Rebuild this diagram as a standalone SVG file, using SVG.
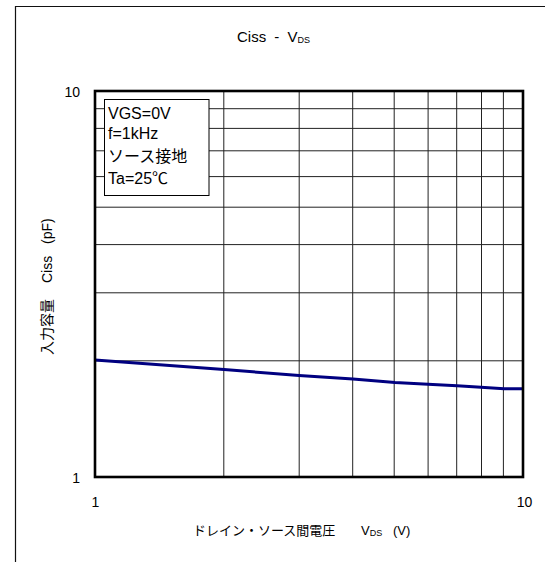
<svg xmlns="http://www.w3.org/2000/svg" width="545" height="562" viewBox="0 0 545 562">
<style>
text{font-family:"Liberation Sans","Noto Sans CJK JP",sans-serif;fill:#000}
.t14{font-size:14px}
.leg{font-size:16px}
.sub{font-size:9px}
.grid line{stroke:#222;stroke-width:1}
</style>
<rect width="545" height="562" fill="#fff"/>
<g id="frame"><path d="M15.5,562 V6.5 H545" fill="none" stroke="#111" stroke-width="1.2"/></g>
<g id="title"><text class="t14" x="237" y="42" style="font-size:15px" word-spacing="4">Ciss - V<tspan class="sub" dy="1">DS</tspan></text></g>
<g id="grid" class="grid">
<line x1="223.8" y1="91" x2="223.8" y2="477"/>
<line x1="299.2" y1="91" x2="299.2" y2="477"/>
<line x1="352.7" y1="91" x2="352.7" y2="477"/>
<line x1="394.2" y1="91" x2="394.2" y2="477"/>
<line x1="428.1" y1="91" x2="428.1" y2="477"/>
<line x1="456.7" y1="91" x2="456.7" y2="477"/>
<line x1="481.5" y1="91" x2="481.5" y2="477"/>
<line x1="503.4" y1="91" x2="503.4" y2="477"/>
<line x1="95" y1="360.8" x2="523" y2="360.8"/>
<line x1="95" y1="292.8" x2="523" y2="292.8"/>
<line x1="95" y1="244.6" x2="523" y2="244.6"/>
<line x1="95" y1="207.2" x2="523" y2="207.2"/>
<line x1="95" y1="176.6" x2="523" y2="176.6"/>
<line x1="95" y1="150.8" x2="523" y2="150.8"/>
<line x1="95" y1="128.4" x2="523" y2="128.4"/>
<line x1="95" y1="108.7" x2="523" y2="108.7"/>
</g>
<g id="curve"><polyline points="95,360 224,369.5 299,375.5 353,379 395,382.5 428,384.2 457,385.8 481,387.3 504,388.7 523,388.7" fill="none" stroke="#000080" stroke-width="3" stroke-linejoin="round"/></g>
<g id="plot-border"><rect x="95" y="91" width="428" height="386" fill="none" stroke="#000" stroke-width="2.6"/></g>
<g id="legend">
<rect x="104.5" y="99.5" width="104.5" height="96" fill="#fff" stroke="#000" stroke-width="1"/>
<text class="leg" x="108" y="119">VGS=0V</text>
<text class="leg" x="108" y="139">f=1kHz</text>
<text class="leg" x="108" y="162">ソース接地</text>
<text class="leg" x="108" y="184">Ta=25℃</text>
</g>
<g id="y-ticks">
<text class="t14" x="80" y="97" text-anchor="end">10</text>
<text class="t14" x="80" y="483" text-anchor="end">1</text>
</g>
<g id="x-ticks">
<text class="t14" x="95.5" y="507" text-anchor="middle">1</text>
<text class="t14" x="524.5" y="507" text-anchor="middle">10</text>
</g>
<g id="y-label"><text class="t14" transform="translate(51.5,355) rotate(-90)" x="0" y="0">入力容量 <tspan x="72">Ciss</tspan> <tspan x="111">(pF)</tspan></text></g>
<g id="x-label"><text style="font-size:13px" x="193" y="535">ドレイン・ソース間電圧 <tspan x="361">V</tspan><tspan class="sub" dy="1">DS</tspan> <tspan x="393" dy="-1">(V)</tspan></text></g>
</svg>
